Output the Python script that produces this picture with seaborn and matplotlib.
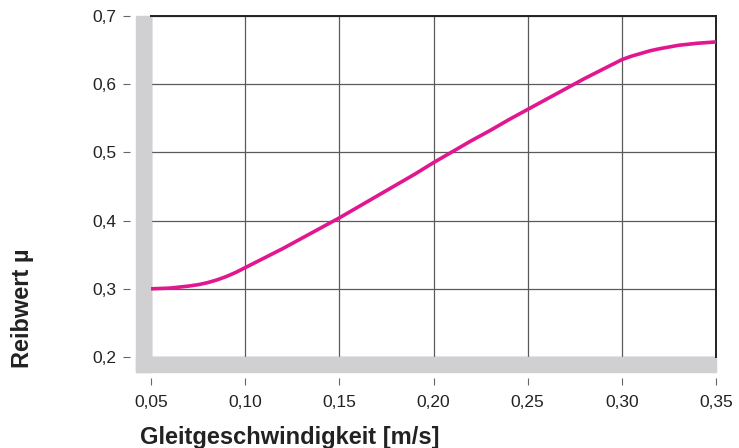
import matplotlib
matplotlib.use('Agg')
import matplotlib.pyplot as plt
from matplotlib.patches import Rectangle
import seaborn as sns
import pandas as pd

# Reibwert über Gleitgeschwindigkeit
speed = [0.05, 0.06, 0.07, 0.075, 0.08, 0.085, 0.09, 0.095, 0.10, 0.105, 0.11, 0.12, 0.13, 0.14,
         0.15, 0.16, 0.17, 0.18, 0.19, 0.20, 0.21, 0.22, 0.23, 0.24,
         0.25, 0.26, 0.27, 0.28, 0.29, 0.295, 0.30, 0.305, 0.31, 0.315, 0.32, 0.33, 0.34, 0.35]
mu = [0.300, 0.301, 0.304, 0.306, 0.309, 0.313, 0.318, 0.324, 0.331, 0.338, 0.345, 0.359, 0.374, 0.389,
      0.404, 0.420, 0.436, 0.452, 0.468, 0.485, 0.501, 0.517, 0.532, 0.548,
      0.563, 0.578, 0.593, 0.608, 0.622, 0.629, 0.636, 0.641, 0.645, 0.649, 0.652, 0.657, 0.660, 0.662]

x_ticks = [0.05, 0.10, 0.15, 0.20, 0.25, 0.30, 0.35]
x_labels = ['0,05', '0,10', '0,15', '0,20', '0,25', '0,30', '0,35']
y_ticks = [0.2, 0.3, 0.4, 0.5, 0.6, 0.7]
y_labels = ['0,2', '0,3', '0,4', '0,5', '0,6', '0,7']

data = pd.DataFrame({'speed': speed, 'mu': mu})

sns.set_style('white')
plt.rcParams['font.family'] = ['Liberation Sans', 'DejaVu Sans']

W, H = 739, 448
fig = plt.figure(figsize=(W / 100, H / 100), dpi=100)
ax = fig.add_axes([151 / W, 1 - 357 / H, (716 - 151) / W, (357 - 16) / H])

sns.lineplot(data=data, x='speed', y='mu', ax=ax, color='#e2168e', lw=2.6, zorder=5)

ax.set_xlim(0.05, 0.35)
ax.set_ylim(0.2, 0.7)
ax.set_xticks(x_ticks, x_labels)
ax.set_yticks(y_ticks, y_labels)
ax.grid(True, color='#5a5a5a', lw=0.9)
ax.set_axisbelow(True)

for side in ['top', 'right']:
    ax.spines[side].set_color('#222222')
    ax.spines[side].set_linewidth(1.4)
for side in ['left', 'bottom']:
    ax.spines[side].set_visible(False)
    ax.spines[side].set_position(('outward', 15))

# graue Balken links und unten
bw = 15 / (716 - 151)
bh = 15 / (357 - 16)
ax.add_patch(Rectangle((-bw, -bh), bw, 1 + bh, transform=ax.transAxes,
                       color='#d0d0d2', clip_on=False, zorder=1))
ax.add_patch(Rectangle((-bw, -bh), 1 + bw, bh, transform=ax.transAxes,
                       color='#d0d0d2', clip_on=False, zorder=1))

ax.tick_params(axis='both', direction='out', length=5, width=0.8, color='#666666',
               labelsize=12.5, labelcolor='#222222')
ax.tick_params(axis='x', bottom=True, pad=7)
ax.tick_params(axis='y', left=True, pad=5)
ax.set_xlabel('')
ax.set_ylabel('')

fig.text(140 / W, 1 - 437 / H, 'Gleitgeschwindigkeit [m/s]', fontsize=17,
         fontweight='bold', color='#222222', ha='left', va='center')
fig.text(22 / W, 1 - 308 / H, 'Reibwert µ', fontsize=17, fontweight='bold',
         color='#222222', rotation=90, ha='center', va='center')

fig.savefig('out.png', dpi=100)
